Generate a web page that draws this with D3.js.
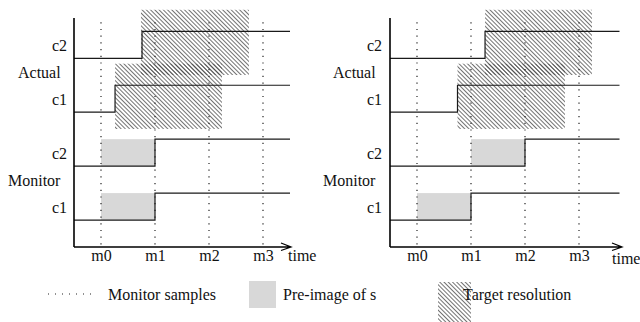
<!DOCTYPE html>
<html>
<head>
<meta charset="utf-8">
<script src="https://cdn.jsdelivr.net/npm/d3@7"></script>
<style>
  html, body { margin: 0; padding: 0; background: #fff; }
  svg { display: block; }
  svg text { font-family: 'Liberation Serif', 'DejaVu Serif', serif !important; font-size: 16px; fill: #111; }
</style>
</head>
<body>
<div id="chart"></div>
<script>
// ---------- data ----------
const sampleLabels = ["m0", "m1", "m2", "m3"];
const sampleTimes = [1, 2, 3, 4];
const groupLabels = ["Actual", "Monitor"];
const rowLabels = ["c2", "c1", "c2", "c1"];          // Actual c2, Actual c1, Monitor c2, Monitor c1
const rowLevels = [3, 2, 1, 0];                      // signal low level of each row (high = level + 0.5)
// per panel [left, right]: time at which each signal switches
const actualC2Step = [1.76, 2.26];
const actualC1Step = [1.26, 1.75];
const monitorC2Step = [2, 3];
const monitorC1Step = [2, 2];
// target resolution (hatched) time spans
const targetC2 = [[1.74, 3.74], [2.26, 4.24]];
const targetC1 = [[1.26, 3.24], [1.75, 3.74]];
// pre-image of s (grey) time spans
const preImageC2 = [[1, 2], [2, 3]];
const preImageC1 = [[1, 2], [1, 2]];
const legendLabels = ["Monitor samples", "Pre-image of s", "Target resolution"];

// ---------- drawing ----------
const W = 640, H = 322;
const FONT = "'Liberation Serif', 'DejaVu Serif', serif";
const svg = d3.select("#chart").append("svg").attr("width", W).attr("height", H)
  .attr("font-family", FONT).attr("font-size", 16);

const defs = svg.append("defs");
const pat = defs.append("pattern")
  .attr("id", "hatch").attr("patternUnits", "userSpaceOnUse")
  .attr("width", 3).attr("height", 3)
  .attr("patternTransform", "rotate(-45)");
pat.append("line").attr("x1", 0.5).attr("y1", -1).attr("x2", 0.5).attr("y2", 4)
  .attr("stroke", "#444").attr("stroke-width", 0.75);

const y = d3.scaleLinear().domain([-0.5, 3.5]).range([247, 31.35]);

const panels = [
  { x: d3.scaleLinear().domain([0.5, 4.5]).range([74, 290]), end: 4.5, tip: 291, timeX: 288, timeY: 261,
    labelEnd: 67, groupX: [18, 8] },
  { x: d3.scaleLinear().domain([0.5, 4.75]).range([390, 619.5]), end: 4.75, tip: 622, timeX: 612, timeY: 264,
    labelEnd: 382, groupX: [333, 323] }
];

panels.forEach((p, pi) => {
  const x = p.x;
  const g = svg.append("g");
  const steps = [actualC2Step[pi], actualC1Step[pi], monitorC2Step[pi], monitorC1Step[pi]];

  // target resolution hatched areas
  const targets = [
    { span: targetC2[pi], lo: rowLevels[0] - 0.31, hi: rowLevels[0] + 0.9 },
    { span: targetC1[pi], lo: rowLevels[1] - 0.31, hi: rowLevels[1] + 0.9 }
  ];
  g.selectAll("rect.target").data(targets).join("rect").attr("class", "target")
    .attr("x", d => x(d.span[0])).attr("width", d => x(d.span[1]) - x(d.span[0]))
    .attr("y", d => y(d.hi)).attr("height", d => y(d.lo) - y(d.hi))
    .attr("fill", "url(#hatch)");

  // pre-image grey boxes
  const pre = [
    { span: preImageC2[pi], lvl: rowLevels[2] },
    { span: preImageC1[pi], lvl: rowLevels[3] }
  ];
  g.selectAll("rect.pre").data(pre).join("rect").attr("class", "pre")
    .attr("x", d => x(d.span[0])).attr("width", d => x(d.span[1]) - x(d.span[0]))
    .attr("y", d => y(d.lvl + 0.5)).attr("height", d => y(d.lvl) - y(d.lvl + 0.5))
    .attr("fill", "#d8d8d8");

  // monitor sample dotted lines
  g.selectAll("line.sample").data(sampleTimes).join("line").attr("class", "sample")
    .attr("x1", d => x(d)).attr("x2", d => x(d))
    .attr("y1", y(3.67)).attr("y2", y(-0.5))
    .attr("stroke", "#222").attr("stroke-width", 1.2).attr("stroke-dasharray", "1.2,5.5");

  // signal step lines
  g.selectAll("path.sig").data(rowLevels).join("path").attr("class", "sig")
    .attr("d", (lvl, i) => `M${x(0.5)},${y(lvl)}H${x(steps[i])}V${y(lvl + 0.5)}H${x(p.end)}`)
    .attr("fill", "none").attr("stroke", "#1a1a1a").attr("stroke-width", 1.2);

  // axes
  g.append("line").attr("x1", x(0.5)).attr("x2", x(0.5)).attr("y1", 18).attr("y2", y(-0.5))
    .attr("stroke", "#000").attr("stroke-width", 1.6);
  g.append("path")
    .attr("d", `M${x(0.5)},${y(-0.5)}H${p.tip}M${p.tip - 10},${y(-0.5) - 4}L${p.tip},${y(-0.5)}L${p.tip - 10},${y(-0.5) + 3.5}`)
    .attr("fill", "none").attr("stroke", "#000").attr("stroke-width", 1.3);

  const axis = d3.axisBottom(x).tickValues(sampleTimes)
    .tickFormat((d, i) => sampleLabels[i]).tickSize(0).tickPadding(3);
  const ag = g.append("g").attr("transform", `translate(0,${y(-0.5)})`).call(axis)
    .attr("font-family", FONT).attr("font-size", 16);
  ag.select(".domain").remove();
  ag.selectAll("text").attr("fill", "#111");

  g.append("text").attr("x", p.timeX).attr("y", p.timeY).text("time");

  // row labels
  g.selectAll("text.row").data(rowLevels).join("text").attr("class", "row")
    .attr("x", p.labelEnd).attr("text-anchor", "end")
    .attr("y", lvl => y(lvl + 0.25) + 6.5)
    .text((lvl, i) => rowLabels[i]);
  g.selectAll("text.grp").data(groupLabels).join("text").attr("class", "grp")
    .attr("x", (d, i) => p.groupX[i])
    .attr("y", (d, i) => y(rowLevels[i * 2] - 0.25) + 6.5)
    .text(d => d);
});

// legend
const lg = svg.append("g");
lg.append("line").attr("x1", 48).attr("x2", 91).attr("y1", 294).attr("y2", 294)
  .attr("stroke", "#222").attr("stroke-width", 1.1).attr("stroke-dasharray", "1,6");
lg.append("text").attr("x", 108).attr("y", 300).text(legendLabels[0]);
lg.append("rect").attr("x", 249).attr("y", 281).attr("width", 27).attr("height", 27).attr("fill", "#d8d8d8");
lg.append("text").attr("x", 283).attr("y", 300).text(legendLabels[1]);
lg.append("rect").attr("x", 438).attr("y", 282).attr("width", 33).attr("height", 42).attr("fill", "url(#hatch)");
lg.append("text").attr("x", 463).attr("y", 300).text(legendLabels[2]);
</script>
</body>
</html>
